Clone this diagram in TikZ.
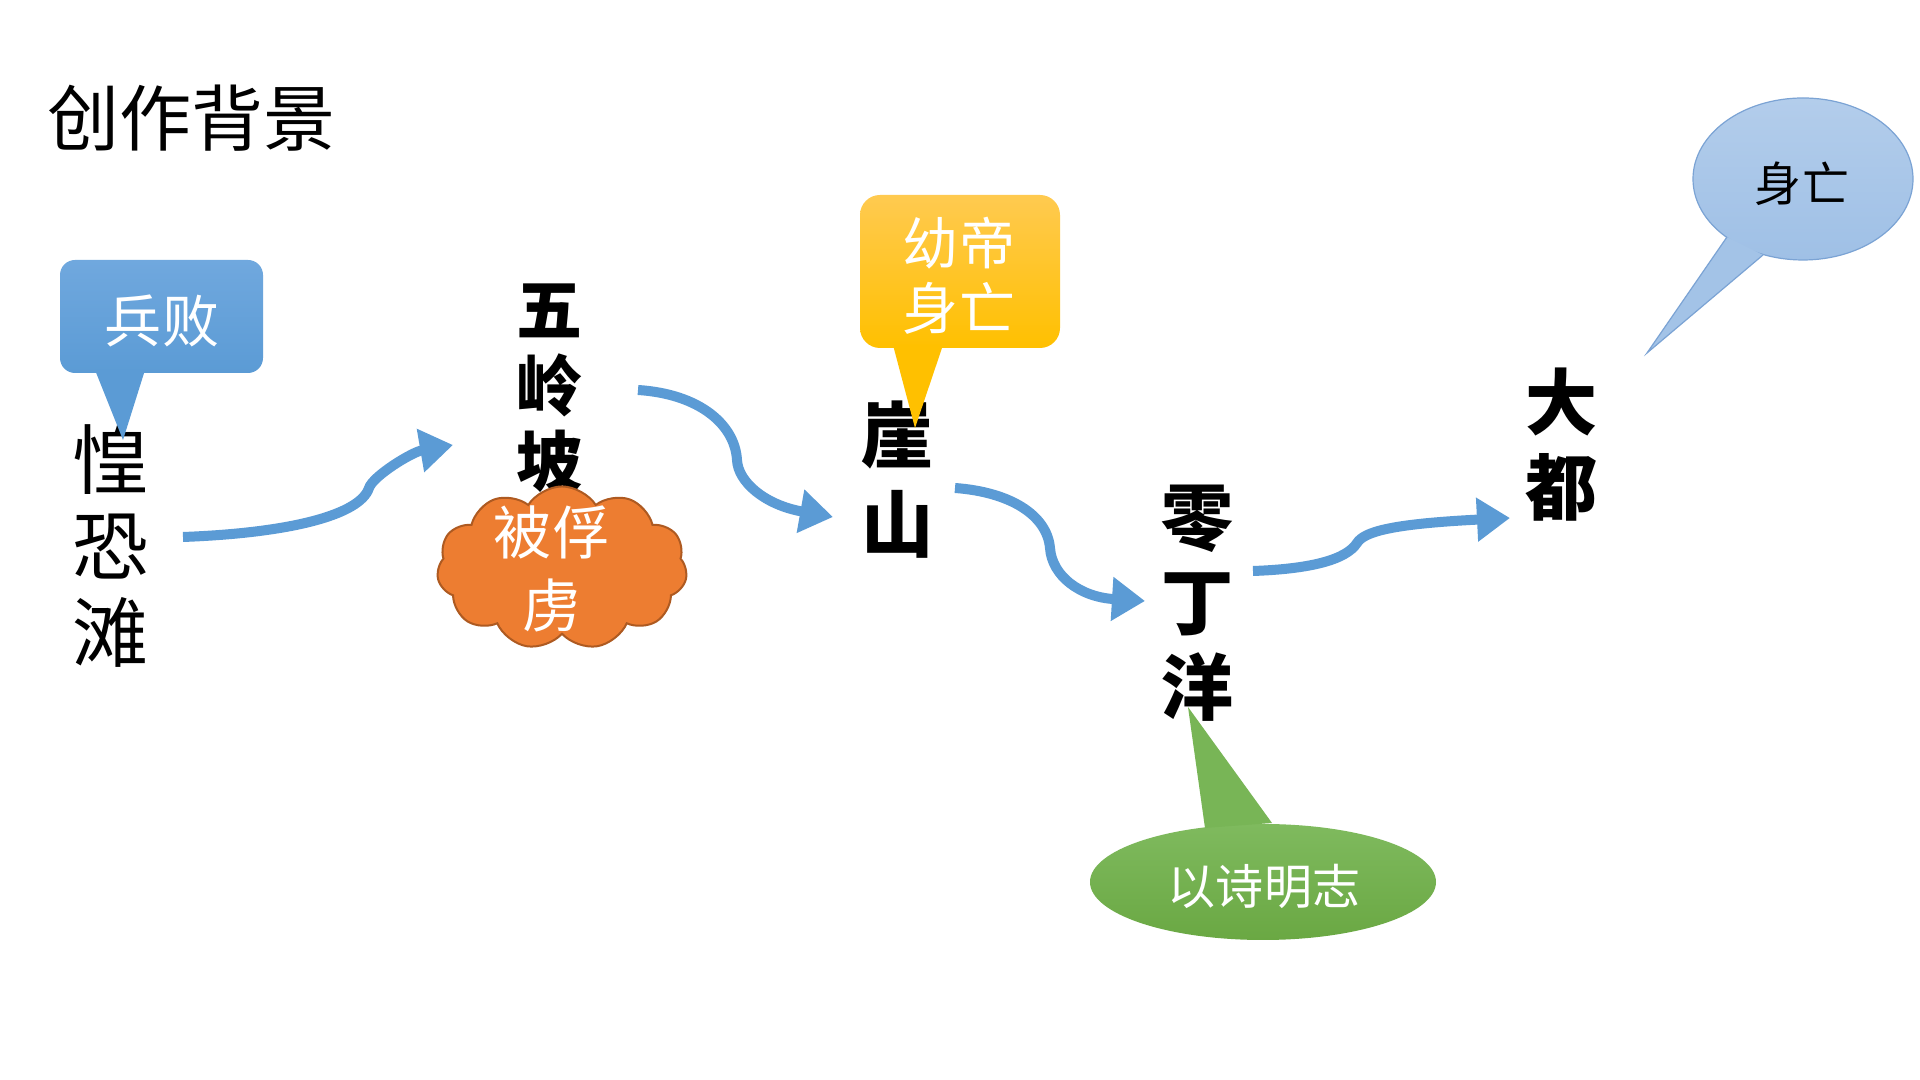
\documentclass[tikz,border=0pt]{standalone}
\usepackage{fontspec}
\newfontfamily\cjk{Noto Sans CJK SC}
\usetikzlibrary{arrows.meta,shapes.symbols,shapes.geometric}
\definecolor{flowblue}{HTML}{5B9BD5}
\definecolor{bbtop}{HTML}{70A8DE}
\definecolor{goldtop}{HTML}{FFCA50}
\definecolor{gold}{HTML}{FFC000}
\definecolor{cloudorange}{HTML}{ED7D31}
\definecolor{cloudedge}{HTML}{AE5A21}
\definecolor{greentop}{HTML}{7FBA5E}
\definecolor{greenbot}{HTML}{6AA843}
\definecolor{greenptr}{HTML}{78B556}
\definecolor{lbtop}{HTML}{B3CDEB}
\definecolor{lbbot}{HTML}{9FC0E6}
\definecolor{lbedge}{HTML}{7BA3D4}
\definecolor{lbptr}{HTML}{A3C3E7}
\tikzset{
  place/.style={align=center, inner sep=0pt, text=black},
  calltext/.style={align=center, inner sep=0pt, text=white},
  flow/.style={draw=flowblue, line width=1mm, -{Triangle[length=3.3mm,width=4.2mm]}},
}
\begin{document}
\begin{tikzpicture}[x=0.01cm,y=-0.01cm]
\useasboundingbox[fill=white] (0,0) rectangle (1920,1080);

% title
\node[anchor=west, inner sep=0pt, font=\cjk\fontsize{7.2mm}{8mm}\selectfont] (title) at (47,118) {创作背景};

% places
\node[place, font=\cjk\fontsize{7.6mm}{8.6mm}\selectfont] (hkt) at (111,546) {惶\\恐\\滩};
\node[place, font=\cjk\bfseries\fontsize{6.6mm}{7.6mm}\selectfont] (wlp) at (550,388) {五\\岭\\坡};
\node[place, font=\cjk\bfseries\fontsize{7.2mm}{8.9mm}\selectfont] (ys) at (898,480) {崖\\山};
\node[place, font=\cjk\bfseries\fontsize{7.2mm}{8.5mm}\selectfont] (ldy) at (1198,603) {零\\丁\\洋};
\node[place, font=\cjk\bfseries\fontsize{7.2mm}{8.5mm}\selectfont] (dd) at (1562,445) {大\\都};

% connectors
\coordinate (a1s) at (183,537); \coordinate (a1e) at (453,445);
\coordinate (a2s) at (638,390); \coordinate (a2e) at (833,517);
\coordinate (a3s) at (955,488); \coordinate (a3e) at (1145,601);
\coordinate (a4s) at (1253,571); \coordinate (a4e) at (1510,518);
\draw[flow] (a1s) .. controls (290,533) and (360,515) .. (369,488) .. controls (373,476) and (412,452) .. (a1e);
\draw[flow] (a2s) .. controls (700,394) and (735,425) .. (737,460) .. controls (738,482) and (765,505) .. (a2e);
\draw[flow] (a3s) .. controls (1010,492) and (1047,515) .. (1050,548) .. controls (1052,576) and (1080,597) .. (a3e);
\draw[flow] (a4s) .. controls (1310,569) and (1346,560) .. (1357,543) .. controls (1364,532) and (1390,524) .. (a4e);

% cloud
\node[cloud, cloud puffs=11, cloud puff arc=115, cloud ignores aspect, minimum width=25mm, minimum height=16.3mm, fill=cloudorange, draw=cloudedge, line width=0.2mm] (cloud) at (562,568) {};
\node[calltext, font=\cjk\fontsize{5.8mm}{7.3mm}\selectfont] (bfl) at (552,569) {被俘\\虏};

% callout: bing bai
\shade[top color=bbtop, bottom color=flowblue, rounded corners=1.5mm] (60,260) rectangle (263,373);
\fill[flowblue] (95,370) -- (123,440) -- (145,370) -- cycle;
\node[calltext, font=\cjk\fontsize{5.7mm}{6.5mm}\selectfont] (bb) at (162,321) {兵败};

% callout: you di shen wang
\shade[top color=goldtop, bottom color=gold, rounded corners=2mm] (860,195) rectangle (1060,348);
\fill[gold] (893,345) -- (915,428) -- (943,345) -- cycle;
\node[calltext, font=\cjk\fontsize{5.6mm}{6.5mm}\selectfont] (ydsw) at (959,276) {幼帝\\身亡};

% callout: green ellipse
\shade[top color=greentop, bottom color=greenbot] (1263,882) ellipse [x radius=173, y radius=58];
\fill[greenptr] (1188,707) -- (1205,828) -- (1272,823) -- cycle;
\node[calltext, font=\cjk\fontsize{4.8mm}{5.5mm}\selectfont] (ysmz) at (1264,886) {以诗明志};

% callout: light blue ellipse
\shade[top color=lbtop, bottom color=lbbot, draw=lbedge, line width=0.12mm] (1803,179) ellipse [x radius=110, y radius=81];
\fill[lbptr] (1647,353) -- (1727,237) -- (1763,255) -- cycle;
\draw[lbedge, line width=0.12mm] (1727,237) -- (1647,353) -- (1763,255);
\node[place, font=\cjk\fontsize{4.7mm}{5.5mm}\selectfont] (sw) at (1802,184) {身亡};
\end{tikzpicture}
\end{document}
